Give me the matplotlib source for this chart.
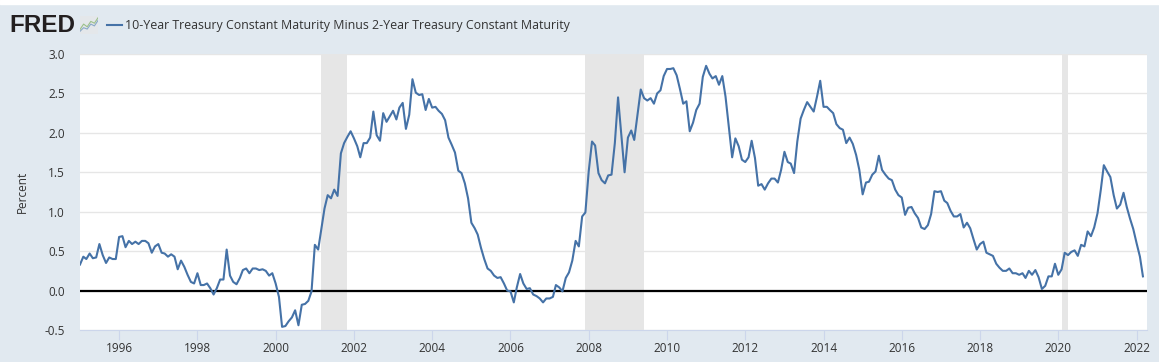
import matplotlib
matplotlib.use("Agg")
import matplotlib.pyplot as plt
import matplotlib.dates as mdates
from matplotlib.lines import Line2D
from matplotlib.patches import Rectangle
import pandas as pd

# monthly averages, Jan 1995 .. Mar 2022
spread_1995_1999 = [
    0.33, 0.43, 0.40, 0.47, 0.41, 0.42, 0.59, 0.45, 0.35, 0.42, 0.40, 0.40,
    0.68, 0.69, 0.55, 0.63, 0.59, 0.62, 0.59, 0.63, 0.63, 0.60, 0.48, 0.56,
    0.59, 0.48, 0.47, 0.43, 0.46, 0.43, 0.27, 0.38, 0.30, 0.20, 0.11, 0.09,
    0.22, 0.07, 0.07, 0.09, 0.03, -0.05, 0.03, 0.14, 0.14, 0.52, 0.19, 0.11,
    0.08, 0.16, 0.26, 0.28, 0.22, 0.28, 0.28, 0.26, 0.27, 0.25, 0.19, 0.22,
]
spread_2000_2004 = [
    0.09, -0.08, -0.46, -0.45, -0.39, -0.34, -0.25, -0.44, -0.18, -0.17, -0.13, -0.01,
    0.58, 0.52, 0.77, 1.04, 1.21, 1.17, 1.28, 1.20, 1.74, 1.87, 1.95, 2.02,
    1.93, 1.83, 1.69, 1.87, 1.87, 1.94, 2.27, 1.97, 1.90, 2.25, 2.14, 2.21,
    2.28, 2.17, 2.32, 2.38, 2.05, 2.23, 2.68, 2.51, 2.48, 2.49, 2.29, 2.43,
    2.32, 2.33, 2.28, 2.24, 2.16, 1.94, 1.85, 1.75, 1.52, 1.49, 1.36, 1.17,
]
spread_2005_2009 = [
    0.86, 0.79, 0.71, 0.54, 0.40, 0.28, 0.25, 0.19, 0.16, 0.17, 0.09, 0.00,
    -0.01, -0.15, 0.04, 0.21, 0.09, 0.02, 0.03, -0.05, -0.07, -0.10, -0.15, -0.10,
    -0.10, -0.08, 0.07, 0.04, -0.01, 0.16, 0.23, 0.38, 0.63, 0.56, 0.94, 0.99,
    1.51, 1.89, 1.84, 1.49, 1.40, 1.36, 1.46, 1.47, 1.87, 2.45, 1.97, 1.50,
    1.94, 2.03, 1.91, 2.23, 2.55, 2.44, 2.41, 2.44, 2.37, 2.50, 2.54, 2.72,
]
spread_2010_2014 = [
    2.81, 2.81, 2.82, 2.73, 2.56, 2.37, 2.40, 2.02, 2.13, 2.29, 2.37, 2.71,
    2.85, 2.75, 2.69, 2.72, 2.61, 2.72, 2.46, 2.08, 1.69, 1.93, 1.83, 1.66,
    1.63, 1.69, 1.90, 1.68, 1.33, 1.35, 1.28, 1.36, 1.42, 1.42, 1.37, 1.53,
    1.76, 1.63, 1.61, 1.49, 1.89, 2.18, 2.29, 2.39, 2.33, 2.27, 2.46, 2.66,
    2.33, 2.33, 2.29, 2.25, 2.11, 2.06, 2.04, 1.87, 1.94, 1.86, 1.72, 1.53,
]
spread_2015_2019 = [
    1.22, 1.37, 1.38, 1.47, 1.51, 1.71, 1.53, 1.47, 1.42, 1.40, 1.28, 1.21,
    1.18, 0.96, 1.05, 1.06, 0.98, 0.92, 0.80, 0.78, 0.83, 0.97, 1.26, 1.25,
    1.26, 1.14, 1.11, 1.01, 0.94, 0.94, 0.97, 0.80, 0.86, 0.79, 0.65, 0.52,
    0.59, 0.62, 0.48, 0.46, 0.44, 0.34, 0.29, 0.25, 0.25, 0.28, 0.22, 0.22,
    0.20, 0.22, 0.16, 0.25, 0.20, 0.26, 0.17, 0.02, 0.06, 0.18, 0.18, 0.34,
]
spread_2020_2022 = [
    0.20, 0.27, 0.48, 0.45, 0.49, 0.51, 0.44, 0.58, 0.56, 0.75, 0.69, 0.80,
    0.98, 1.28, 1.59, 1.51, 1.44, 1.21, 1.04, 1.09, 1.24, 1.06, 0.91, 0.78,
    0.60, 0.43, 0.18,
]

recession_start = ["2001-03-01", "2007-12-01", "2020-02-01"]
recession_end = ["2001-11-01", "2009-06-01", "2020-04-01"]

series_title = "10-Year Treasury Constant Maturity Minus 2-Year Treasury Constant Maturity"

values = (spread_1995_1999 + spread_2000_2004 + spread_2005_2009 +
          spread_2010_2014 + spread_2015_2019 + spread_2020_2022)
dates = pd.date_range("1995-01-01", periods=len(values), freq="MS")

BG = "#e1e9f0"
LINE = "#4572a7"
TXT = "#333333"

plt.rcParams["font.family"] = ["Open Sans", "DejaVu Sans"]

fig = plt.figure(figsize=(11.59, 3.62), dpi=100, facecolor=BG)
ax = fig.add_axes([80 / 1159, 32 / 362, 1067 / 1159, 276 / 362])
ax.set_facecolor("white")

for s, e in zip(recession_start, recession_end):
    ax.axvspan(pd.Timestamp(s), pd.Timestamp(e), color="#e6e6e6", lw=0, zorder=0)

ax.axhline(0, color="black", lw=1.6, zorder=2)
ax.plot(dates, values, color=LINE, lw=1.5, zorder=3, solid_joinstyle="round")

yticks = [-0.5, 0, 0.5, 1.0, 1.5, 2.0, 2.5, 3.0]
ax.set_ylim(-0.5, 3.0)
ax.set_yticks(yticks)
ax.set_yticklabels([f"{v:.1f}" for v in yticks])
ax.grid(axis="y", color="#e6e6e6", lw=1)
ax.set_axisbelow(True)

ax.set_xlim(pd.Timestamp("1995-01-01"), pd.Timestamp("2022-04-08"))
ax.xaxis.set_major_locator(mdates.YearLocator(2, month=1, day=1))
ax.xaxis.set_major_formatter(mdates.DateFormatter("%Y"))

for side in ["top", "right", "left"]:
    ax.spines[side].set_visible(False)
ax.spines["bottom"].set_color("#ccd6eb")
ax.tick_params(axis="x", colors="#ccd6eb", length=7.2, width=0.8, labelcolor=TXT,
               labelsize=8.5, pad=1.5)
ax.tick_params(axis="y", length=0, labelcolor=TXT, labelsize=8.5, pad=11)
ax.set_ylabel("Percent", color=TXT, fontsize=8.5, labelpad=11)

# header: FRED logo, small icon and legend
fig.patches.append(Rectangle((0, 1 - 4 / 362), 1, 4 / 362, transform=fig.transFigure,
                             color="white", zorder=0))
fig.text(9 / 1159, 1 - 25 / 362, "FRED", fontsize=17.5, fontweight="bold",
         family="Liberation Sans", color="#231f20", va="center", ha="left")
icon = fig.add_axes([80 / 1159, 1 - 34 / 362, 18 / 1159, 18 / 362])
icon.set_facecolor("#e4e7ea")
icon.plot([0, 1, 2, 3, 4, 5], [1, 2.2, 1.6, 2.8, 2.4, 3.6], color="#9cc08a", lw=0.8)
icon.plot([0, 1, 2, 3, 4, 5], [0.6, 1.4, 1.1, 2.2, 1.8, 3.0], color="#8aa9c8", lw=0.8)
icon.set_xlim(0, 5)
icon.set_ylim(0, 4)
icon.set_xticks([])
icon.set_yticks([])
for sp in icon.spines.values():
    sp.set_visible(False)

fig.lines.append(Line2D([107 / 1159, 122 / 1159], [1 - 25 / 362, 1 - 25 / 362],
                        transform=fig.transFigure, color=LINE, lw=1.5))
fig.text(125 / 1159, 1 - 25.5 / 362, series_title, fontsize=8.9, color=TXT,
         va="center", ha="left")

fig.savefig("out.png", dpi=100, facecolor=BG)
